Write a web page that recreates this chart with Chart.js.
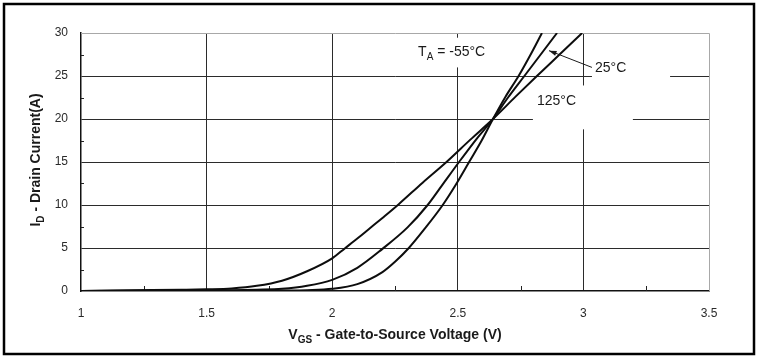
<!DOCTYPE html>
<html>
<head>
<meta charset="utf-8">
<script src="https://cdn.jsdelivr.net/npm/chart.js@4.4.0/dist/chart.umd.min.js"></script>
<style>
  html, body { margin: 0; padding: 0; background: #fff; }
  canvas { display: block; }
</style>
</head>
<body>
<canvas id="chart" width="759" height="356"></canvas>
<script>
// Transfer characteristics: drain current vs gate-to-source voltage
const xTickValues = [1, 1.5, 2, 2.5, 3, 3.5];
const yTickValues = [0, 5, 10, 15, 20, 25, 30];

const vgs125 = [1.0, 1.2, 1.4, 1.5, 1.6, 1.7, 1.8, 1.9, 2.0, 2.05, 2.1, 2.15, 2.2, 2.265, 2.36, 2.455, 2.55, 2.64, 2.73, 2.815, 2.905, 2.995];
const id125  = [0.0, 0.08, 0.15, 0.2, 0.3, 0.6, 1.2, 2.3, 3.8, 4.95, 6.1, 7.3, 8.5, 10.1, 12.6, 15.0, 17.6, 20.0, 22.6, 25.0, 27.5, 30.0];

const vgs25 = [1.0, 1.4, 1.6, 1.7, 1.8, 1.9, 2.0, 2.1, 2.2, 2.3, 2.38, 2.44, 2.505, 2.575, 2.64, 2.7, 2.765, 2.83, 2.895];
const id25  = [0.0, 0.05, 0.1, 0.15, 0.25, 0.6, 1.3, 2.7, 4.9, 7.4, 10.0, 12.4, 15.0, 17.7, 20.0, 22.5, 25.0, 27.5, 30.0];

const vgsM55 = [1.0, 1.6, 1.8, 1.9, 2.0, 2.1, 2.2, 2.25, 2.305, 2.37, 2.44, 2.495, 2.545, 2.595, 2.64, 2.69, 2.742, 2.79, 2.835];
const idM55  = [0.0, 0.03, 0.06, 0.1, 0.25, 0.8, 2.2, 3.4, 5.0, 7.3, 10.0, 12.5, 15.0, 17.5, 20.0, 22.6, 25.0, 27.5, 30.0];

const FONT = '"Liberation Sans", Arial, Helvetica, sans-serif';

function points(xs, ys) {
  return xs.map((x, i) => ({ x: x, y: ys[i] }));
}

function curve(label, xs, ys) {
  return {
    label: label,
    data: points(xs, ys),
    showLine: true,
    borderColor: '#0d0d0d',
    borderWidth: 2,
    pointRadius: 0,
    cubicInterpolationMode: 'monotone',
    fill: false
  };
}

// Text with subscripts: parts = [[text, isSub], ...]
function richWidth(ctx, parts, size, weight) {
  let w = 0;
  parts.forEach(p => {
    ctx.font = weight + ' ' + (p[1] ? Math.round(size * 0.72) : size) + 'px ' + FONT;
    w += ctx.measureText(p[0]).width;
  });
  return w;
}
function drawRich(ctx, parts, x, y, size, weight) {
  let cx = x;
  ctx.textBaseline = 'alphabetic';
  ctx.textAlign = 'left';
  parts.forEach(p => {
    ctx.font = weight + ' ' + (p[1] ? Math.round(size * 0.72) : size) + 'px ' + FONT;
    ctx.fillText(p[0], cx, y + (p[1] ? size * 0.3 : 0));
    cx += ctx.measureText(p[0]).width;
  });
}

const decorations = {
  id: 'decorations',
  beforeDatasetsDraw(chart) {
    const { ctx, scales: { x, y }, chartArea: a } = chart;
    ctx.save();
    // light frame on top and right of the plot area
    ctx.strokeStyle = '#a8a8a8';
    ctx.lineWidth = 1;
    ctx.beginPath();
    ctx.moveTo(a.left, a.top + 0.5);
    ctx.lineTo(a.right + 0.5, a.top + 0.5);
    ctx.lineTo(a.right + 0.5, a.bottom);
    ctx.stroke();
    // white backing behind the curve labels
    ctx.fillStyle = '#fff';
    const box = (v0, v1, i0, i1) => {
      const px0 = x.getPixelForValue(v0), px1 = x.getPixelForValue(v1);
      const py0 = y.getPixelForValue(i0), py1 = y.getPixelForValue(i1);
      ctx.fillRect(px0, py0, px1 - px0, py1 - py0);
    };
    box(2.318, 2.636, 29.45, 26.0);
    box(3.034, 3.345, 27.15, 24.6);
    box(2.799, 3.197, 23.9, 18.8);
    // minor ticks
    ctx.strokeStyle = '#222';
    ctx.lineWidth = 1;
    ctx.beginPath();
    for (let v = 1.25; v < 3.5; v += 0.5) {
      const px = Math.round(x.getPixelForValue(v)) + 0.5;
      ctx.moveTo(px, a.bottom);
      ctx.lineTo(px, a.bottom - 5);
    }
    for (let i = 2.5; i < 30; i += 5) {
      const py = Math.round(y.getPixelForValue(i)) + 0.5;
      ctx.moveTo(a.left, py);
      ctx.lineTo(a.left + 3, py);
    }
    ctx.stroke();
    ctx.restore();
  },
  afterDatasetsDraw(chart) {
    const { ctx, scales: { x, y } } = chart;
    ctx.save();
    ctx.fillStyle = '#1a1a1a';
    drawRich(ctx, [['T', false], ['A', true], [' = -55°C', false]],
      x.getPixelForValue(2.342), y.getPixelForValue(27.3), 14, 'normal');
    drawRich(ctx, [['25°C', false]],
      x.getPixelForValue(3.046), y.getPixelForValue(25.5), 14, 'normal');
    drawRich(ctx, [['125°C', false]],
      x.getPixelForValue(2.815), y.getPixelForValue(21.65), 14, 'normal');
    // leader arrow for the 25°C curve
    const x0 = x.getPixelForValue(3.034), y0 = y.getPixelForValue(26.0);
    const x1 = x.getPixelForValue(2.863), y1 = y.getPixelForValue(27.95);
    ctx.strokeStyle = '#1a1a1a';
    ctx.lineWidth = 1;
    ctx.beginPath();
    ctx.moveTo(x0, y0);
    ctx.lineTo(x1, y1);
    ctx.stroke();
    const ang = Math.atan2(y1 - y0, x1 - x0);
    ctx.beginPath();
    ctx.moveTo(x1, y1);
    ctx.lineTo(x1 - 8 * Math.cos(ang - 0.32), y1 - 8 * Math.sin(ang - 0.32));
    ctx.lineTo(x1 - 8 * Math.cos(ang + 0.32), y1 - 8 * Math.sin(ang + 0.32));
    ctx.closePath();
    ctx.fill();
    ctx.restore();
  },
  afterDraw(chart) {
    const { ctx, chartArea: a } = chart;
    ctx.save();
    ctx.fillStyle = '#1a1a1a';
    // x-axis title
    const xt = [['V', false], ['GS', true], [' - Gate-to-Source Voltage (V)', false]];
    const xw = richWidth(ctx, xt, 14, 'bold');
    drawRich(ctx, xt, (a.left + a.right) / 2 - xw / 2, 339, 14, 'bold');
    // y-axis title
    const yt = [['I', false], ['D', true], [' - Drain Current(A)', false]];
    const yw = richWidth(ctx, yt, 14, 'bold');
    ctx.translate(40, (a.top + a.bottom) / 2 - 2);
    ctx.rotate(-Math.PI / 2);
    drawRich(ctx, yt, -yw / 2, 0, 14, 'bold');
    ctx.restore();
    // outer frame
    ctx.save();
    ctx.strokeStyle = '#000';
    ctx.lineWidth = 2.5;
    ctx.strokeRect(4, 4, 750, 350);
    ctx.restore();
  }
};

new Chart(document.getElementById('chart').getContext('2d'), {
  type: 'scatter',
  data: {
    datasets: [
      curve('125°C', vgs125, id125),
      curve('25°C', vgs25, id25),
      curve('-55°C', vgsM55, idM55)
    ]
  },
  options: {
    responsive: false,
    animation: false,
    layout: { padding: { left: 0, right: 50, top: 33, bottom: 0 } },
    plugins: { legend: { display: false }, tooltip: { enabled: false } },
    scales: {
      x: {
        type: 'linear',
        min: 1,
        max: 3.5,
        afterBuildTicks: s => { s.ticks = xTickValues.map(v => ({ value: v })); },
        afterFit: s => { s.height = 65; },
        ticks: {
          padding: 15,
          color: '#2a2a2a',
          font: { family: FONT, size: 12 },
          maxRotation: 0,
          callback: v => String(v)
        },
        grid: {
          drawTicks: false,
          lineWidth: 1,
          color: c => (c.tick && (c.tick.value === 3.5 || c.tick.value === 1)) ? 'rgba(0,0,0,0)' : '#2b2b2b'
        },
        border: { color: '#111', width: 1.5 }
      },
      y: {
        type: 'linear',
        min: 0,
        max: 30,
        afterBuildTicks: s => { s.ticks = yTickValues.map(v => ({ value: v })); },
        afterFit: s => { s.width = 81; },
        ticks: {
          padding: 13,
          color: '#2a2a2a',
          font: { family: FONT, size: 12 },
          callback: v => String(v)
        },
        grid: {
          drawTicks: false,
          lineWidth: 1,
          color: c => (c.tick && (c.tick.value === 30 || c.tick.value === 0)) ? 'rgba(0,0,0,0)' : '#2b2b2b'
        },
        border: { color: '#111', width: 1.5 }
      }
    }
  },
  plugins: [decorations]
});
</script>
</body>
</html>
